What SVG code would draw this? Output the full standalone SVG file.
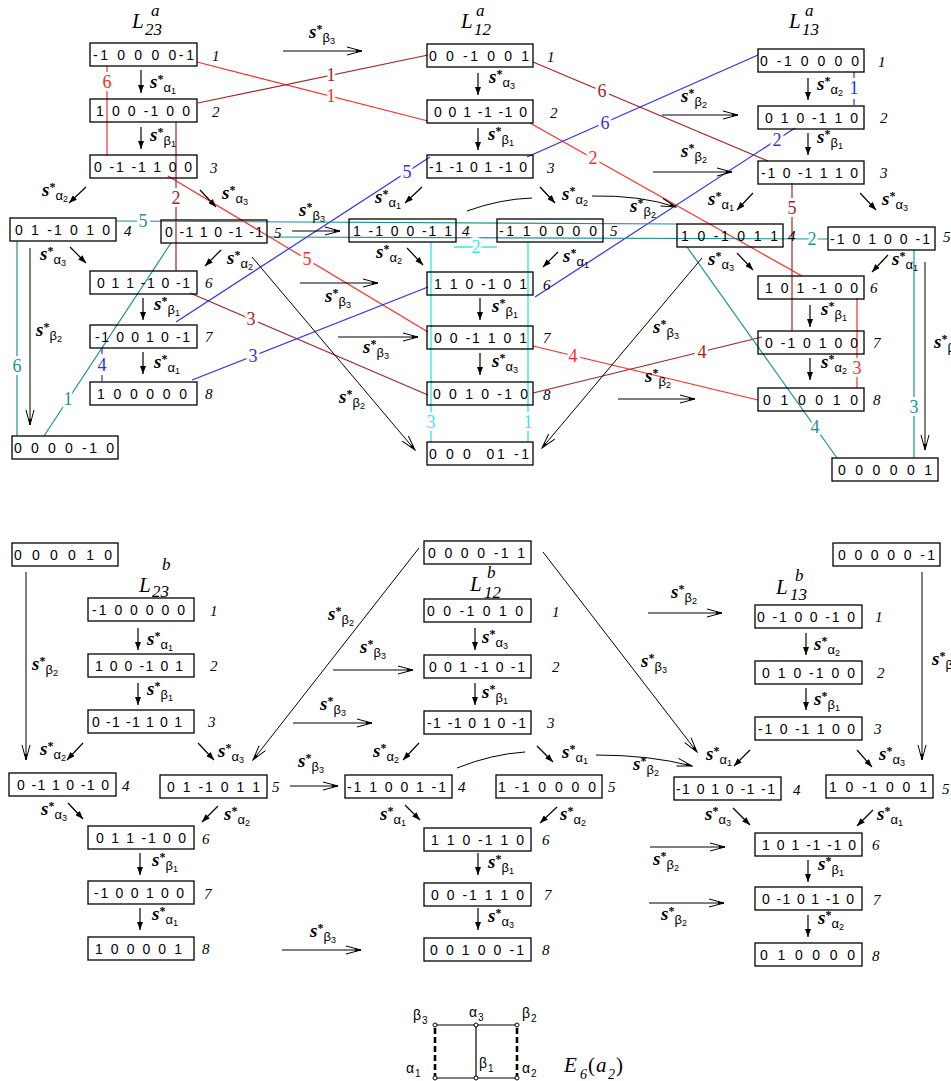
<svg xmlns="http://www.w3.org/2000/svg" width="951" height="1081" viewBox="0 0 951 1081">
<style>
.box{fill:none;stroke:#000;stroke-width:1.3}
.bx{font-family:"Liberation Sans",Arial,sans-serif;font-size:14px;fill:#000}
.ix{font-family:"Liberation Serif",serif;font-style:italic;font-size:15px;fill:#000}
.ttl{font-family:"Liberation Serif",serif;font-style:italic;font-size:21px;fill:#000}
.tsup{font-family:"Liberation Serif",serif;font-style:italic;font-size:17px;fill:#000}
.op{font-family:"Liberation Serif",serif;font-style:italic;font-weight:bold;font-size:19px;fill:#000}
.op .st{font-size:12px;font-style:normal}
.op .g{font-family:"Liberation Sans",Arial,sans-serif;font-style:normal;font-weight:normal;font-size:13px}
.op .n{font-family:"Liberation Sans",Arial,sans-serif;font-style:normal;font-weight:normal;font-size:9px}
.sa{stroke:#000;stroke-width:1.2;marker-end:url(#ah)}
.la{stroke:#000;stroke-width:1;fill:none;marker-end:url(#oh)}
.red{stroke:#ff2a2a;stroke-width:1.2}
.brn{stroke:#a02626;stroke-width:1.2}
.blu{stroke:#2f2fee;stroke-width:1.2}
.tea{stroke:#1f9090;stroke-width:1.2}
.cya{stroke:#3ee6e6;stroke-width:1.4}
.dash{stroke-dasharray:6 3}
.nl{font-family:"Liberation Serif",serif;font-size:18px;text-anchor:middle;paint-order:stroke;stroke:#fff;stroke-width:6px;stroke-linejoin:round}
.nr{fill:#ff2a2a}.nb{fill:#a02626}.nu{fill:#2f2fee}.nt{fill:#1f9090}.nc{fill:#3ee6e6}
.dk{font-family:"Liberation Sans",Arial,sans-serif;font-size:14px;fill:#000}
.dks{font-family:"Liberation Sans",Arial,sans-serif;font-size:10px;fill:#000}
</style>
<defs>
<marker id="ah" viewBox="0 0 8 6" refX="8" refY="3" markerWidth="8" markerHeight="6" markerUnits="userSpaceOnUse" orient="auto"><path d="M0,0 L8,3 L0,6 z" fill="#000"/></marker>
<marker id="oh" viewBox="-16 -5 17 10" refX="0" refY="0" markerWidth="17" markerHeight="10" markerUnits="userSpaceOnUse" orient="auto"><path d="M-15,-4 L0,0 L-15,4" fill="none" stroke="#000" stroke-width="1"/><path d="M-6,-1.6 L0,0 L-6,1.6 z" fill="#000"/></marker>
</defs>
<rect width="951" height="1081" fill="#fff"/>

<g id="connectors">
<line class="red" x1="197" y1="62" x2="428" y2="121"/>
<line class="red" x1="107" y1="66" x2="107" y2="155"/>
<line class="red" x1="168" y1="176" x2="428" y2="332"/>
<line class="red" x1="530" y1="123" x2="802" y2="276"/>
<line class="red" x1="533" y1="346" x2="758" y2="400"/>
<line class="red" x1="857" y1="298" x2="857" y2="388"/>
<line class="brn" x1="198" y1="103" x2="428" y2="55"/>
<line class="brn" x1="176" y1="122" x2="176" y2="271"/>
<line class="brn" x1="190" y1="293" x2="428" y2="395"/>
<line class="brn" x1="533" y1="62" x2="768" y2="161"/>
<line class="brn" x1="792" y1="183" x2="792" y2="331"/>
<line class="brn" x1="533" y1="393" x2="762" y2="337"/>
<line class="blu" x1="176" y1="322" x2="430" y2="157"/>
<line class="blu" x1="192" y1="380" x2="428" y2="287"/>
<line class="blu" x1="527" y1="157" x2="758" y2="55"/>
<line class="blu" x1="535" y1="297" x2="795" y2="128"/>
<line class="blu dash" x1="854" y1="72" x2="854" y2="106"/>
<line class="blu dash" x1="102" y1="348" x2="102" y2="382"/>
<line class="tea" x1="17" y1="241" x2="17" y2="436"/>
<line class="tea" x1="44" y1="436" x2="171" y2="243"/>
<line class="tea" x1="116" y1="221" x2="677" y2="224"/>
<line class="tea" x1="267" y1="237" x2="828" y2="239"/>
<line class="tea" x1="914" y1="250" x2="914" y2="458"/>
<line class="tea" x1="687" y1="247" x2="837" y2="458"/>
<line class="cya" x1="431" y1="242" x2="431" y2="442"/>
<line class="cya" x1="528" y1="242" x2="528" y2="442"/>
<line class="cya" x1="454" y1="247" x2="497" y2="247"/>

<text class="nl nr" x="331" y="102">1</text>
<text class="nl nr" x="107" y="88">6</text>
<text class="nl nr" x="307" y="265">5</text>
<text class="nl nr" x="593" y="164">2</text>
<text class="nl nr" x="573" y="362">4</text>
<text class="nl nr" x="857" y="374">3</text>
<text class="nl nb" x="331" y="81">1</text>
<text class="nl nb" x="176" y="204">2</text>
<text class="nl nb" x="251" y="325">3</text>
<text class="nl nb" x="602" y="97">6</text>
<text class="nl nb" x="792" y="214">5</text>
<text class="nl nb" x="702" y="358">4</text>
<text class="nl nu" x="407" y="178">5</text>
<text class="nl nu" x="253" y="362">3</text>
<text class="nl nu" x="605" y="129">6</text>
<text class="nl nu" x="777" y="146">2</text>
<text class="nl nu" x="854" y="94">1</text>
<text class="nl nu" x="102" y="371">4</text>
<text class="nl nt" x="17" y="372">6</text>
<text class="nl nt" x="68" y="405">1</text>
<text class="nl nt" x="143" y="227">5</text>
<text class="nl nt" x="812" y="245">2</text>
<text class="nl nt" x="914" y="413">3</text>
<text class="nl nt" x="815" y="433">4</text>
<text class="nl nc" x="431" y="428">3</text>
<text class="nl nc" x="528" y="428">1</text>
<text class="nl nc" x="476" y="253">2</text>

<line class="sa" x1="141" y1="70" x2="141" y2="93"/>
<line class="sa" x1="141" y1="127" x2="141" y2="149"/>
<line class="sa" x1="143" y1="298" x2="143" y2="320"/>
<line class="sa" x1="143" y1="352" x2="143" y2="374"/>
<line class="sa" x1="478" y1="73" x2="478" y2="95"/>
<line class="sa" x1="478" y1="128" x2="478" y2="150"/>
<line class="sa" x1="480" y1="298" x2="480" y2="320"/>
<line class="sa" x1="480" y1="353" x2="480" y2="375"/>
<line class="sa" x1="808" y1="78" x2="808" y2="100"/>
<line class="sa" x1="808" y1="133" x2="808" y2="155"/>
<line class="sa" x1="810" y1="305" x2="810" y2="327"/>
<line class="sa" x1="810" y1="358" x2="810" y2="380"/>
<line class="sa" x1="138" y1="628" x2="138" y2="650"/>
<line class="sa" x1="138" y1="683" x2="138" y2="705"/>
<line class="sa" x1="140" y1="853" x2="140" y2="875"/>
<line class="sa" x1="140" y1="908" x2="140" y2="930"/>
<line class="sa" x1="475" y1="628" x2="475" y2="650"/>
<line class="sa" x1="475" y1="683" x2="475" y2="705"/>
<line class="sa" x1="478" y1="853" x2="478" y2="875"/>
<line class="sa" x1="478" y1="908" x2="478" y2="930"/>
<line class="sa" x1="806" y1="633" x2="806" y2="655"/>
<line class="sa" x1="806" y1="688" x2="806" y2="710"/>
<line class="sa" x1="808" y1="860" x2="808" y2="882"/>
<line class="sa" x1="808" y1="915" x2="808" y2="937"/>

<line class="sa" x1="86" y1="187" x2="69" y2="203"/>
<line class="sa" x1="200" y1="190" x2="216" y2="207"/>
<line class="sa" x1="70" y1="247" x2="86" y2="263"/>
<line class="sa" x1="221" y1="250" x2="205" y2="266"/>
<line class="sa" x1="422" y1="187" x2="405" y2="203"/>
<line class="sa" x1="540" y1="187" x2="555" y2="203"/>
<line class="sa" x1="407" y1="248" x2="423" y2="265"/>
<line class="sa" x1="558" y1="252" x2="543" y2="267"/>
<line class="sa" x1="753" y1="193" x2="737" y2="210"/>
<line class="sa" x1="860" y1="193" x2="876" y2="210"/>
<line class="sa" x1="737" y1="253" x2="753" y2="270"/>
<line class="sa" x1="888" y1="255" x2="872" y2="272"/>
<line class="sa" x1="83" y1="743" x2="67" y2="760"/>
<line class="sa" x1="198" y1="743" x2="214" y2="760"/>
<line class="sa" x1="68" y1="803" x2="83" y2="819"/>
<line class="sa" x1="218" y1="806" x2="202" y2="822"/>
<line class="sa" x1="419" y1="743" x2="403" y2="760"/>
<line class="sa" x1="537" y1="746" x2="553" y2="762"/>
<line class="sa" x1="405" y1="805" x2="420" y2="820"/>
<line class="sa" x1="557" y1="807" x2="540" y2="823"/>
<line class="sa" x1="750" y1="750" x2="734" y2="766"/>
<line class="sa" x1="857" y1="750" x2="872" y2="767"/>
<line class="sa" x1="733" y1="808" x2="750" y2="825"/>
<line class="sa" x1="873" y1="810" x2="857" y2="826"/>

<line class="la" x1="283" y1="51" x2="362" y2="51"/>
<line class="la" x1="662" y1="115" x2="738" y2="115"/>
<line class="la" x1="653" y1="172" x2="732" y2="172"/>
<line class="la" x1="292" y1="231" x2="340" y2="231"/>
<line class="la" x1="300" y1="283" x2="378" y2="283"/>
<line class="la" x1="338" y1="337" x2="418" y2="337"/>
<line class="la" x1="618" y1="399" x2="695" y2="399"/>
<line class="la" x1="252" y1="257" x2="415" y2="450"/>
<line class="la" x1="702" y1="258" x2="542" y2="448"/>
<line class="la" x1="30" y1="248" x2="30" y2="425"/>
<line class="la" x1="925" y1="262" x2="925" y2="450"/>
<path class="la" d="M467,211 Q500,199 532,198" style="marker-end:none"/>
<path class="la" d="M592,196 Q640,195 676,207"/>

<line class="la" x1="648" y1="613" x2="722" y2="613"/>
<line class="la" x1="333" y1="670" x2="413" y2="670"/>
<line class="la" x1="293" y1="723" x2="372" y2="723"/>
<line class="la" x1="290" y1="786" x2="338" y2="786"/>
<line class="la" x1="650" y1="847" x2="725" y2="847"/>
<line class="la" x1="649" y1="903" x2="724" y2="903"/>
<line class="la" x1="282" y1="950" x2="361" y2="950"/>
<line class="la" x1="419" y1="548" x2="253" y2="760"/>
<line class="la" x1="543" y1="552" x2="697" y2="752"/>
<line class="la" x1="26" y1="572" x2="26" y2="760"/>
<line class="la" x1="922" y1="572" x2="922" y2="760"/>
<path class="la" d="M457,768 Q492,754 525,752" style="marker-end:none"/>
<path class="la" d="M596,755 Q650,755 692,766"/>

<text class="op" x="150" y="88">s<tspan class="st" dy="-5">*</tspan><tspan class="g" dy="9">α</tspan><tspan class="n" dy="2">1</tspan></text>
<text class="op" x="150" y="141">s<tspan class="st" dy="-5">*</tspan><tspan class="g" dy="9">β</tspan><tspan class="n" dy="2">1</tspan></text>
<text class="op" x="42" y="196">s<tspan class="st" dy="-5">*</tspan><tspan class="g" dy="9">α</tspan><tspan class="n" dy="2">2</tspan></text>
<text class="op" x="222" y="199">s<tspan class="st" dy="-5">*</tspan><tspan class="g" dy="9">α</tspan><tspan class="n" dy="2">3</tspan></text>
<text class="op" x="309" y="38">s<tspan class="st" dy="-5">*</tspan><tspan class="g" dy="9">β</tspan><tspan class="n" dy="2">3</tspan></text>
<text class="op" x="299" y="216">s<tspan class="st" dy="-5">*</tspan><tspan class="g" dy="9">β</tspan><tspan class="n" dy="2">3</tspan></text>
<text class="op" x="227" y="264">s<tspan class="st" dy="-5">*</tspan><tspan class="g" dy="9">α</tspan><tspan class="n" dy="2">2</tspan></text>
<text class="op" x="40" y="260">s<tspan class="st" dy="-5">*</tspan><tspan class="g" dy="9">α</tspan><tspan class="n" dy="2">3</tspan></text>
<text class="op" x="154" y="310">s<tspan class="st" dy="-5">*</tspan><tspan class="g" dy="9">β</tspan><tspan class="n" dy="2">1</tspan></text>
<text class="op" x="154" y="368">s<tspan class="st" dy="-5">*</tspan><tspan class="g" dy="9">α</tspan><tspan class="n" dy="2">1</tspan></text>
<text class="op" x="36" y="336">s<tspan class="st" dy="-5">*</tspan><tspan class="g" dy="9">β</tspan><tspan class="n" dy="2">2</tspan></text>
<text class="op" x="339" y="403">s<tspan class="st" dy="-5">*</tspan><tspan class="g" dy="9">β</tspan><tspan class="n" dy="2">2</tspan></text>
<text class="op" x="489" y="83">s<tspan class="st" dy="-5">*</tspan><tspan class="g" dy="9">α</tspan><tspan class="n" dy="2">3</tspan></text>
<text class="op" x="488" y="140">s<tspan class="st" dy="-5">*</tspan><tspan class="g" dy="9">β</tspan><tspan class="n" dy="2">1</tspan></text>
<text class="op" x="375" y="203">s<tspan class="st" dy="-5">*</tspan><tspan class="g" dy="9">α</tspan><tspan class="n" dy="2">1</tspan></text>
<text class="op" x="562" y="200">s<tspan class="st" dy="-5">*</tspan><tspan class="g" dy="9">α</tspan><tspan class="n" dy="2">2</tspan></text>
<text class="op" x="376" y="258">s<tspan class="st" dy="-5">*</tspan><tspan class="g" dy="9">α</tspan><tspan class="n" dy="2">2</tspan></text>
<text class="op" x="563" y="262">s<tspan class="st" dy="-5">*</tspan><tspan class="g" dy="9">α</tspan><tspan class="n" dy="2">1</tspan></text>
<text class="op" x="325" y="302">s<tspan class="st" dy="-5">*</tspan><tspan class="g" dy="9">β</tspan><tspan class="n" dy="2">3</tspan></text>
<text class="op" x="492" y="312">s<tspan class="st" dy="-5">*</tspan><tspan class="g" dy="9">β</tspan><tspan class="n" dy="2">1</tspan></text>
<text class="op" x="363" y="353">s<tspan class="st" dy="-5">*</tspan><tspan class="g" dy="9">β</tspan><tspan class="n" dy="2">3</tspan></text>
<text class="op" x="492" y="367">s<tspan class="st" dy="-5">*</tspan><tspan class="g" dy="9">α</tspan><tspan class="n" dy="2">3</tspan></text>
<text class="op" x="817" y="90">s<tspan class="st" dy="-5">*</tspan><tspan class="g" dy="9">α</tspan><tspan class="n" dy="2">2</tspan></text>
<text class="op" x="817" y="143">s<tspan class="st" dy="-5">*</tspan><tspan class="g" dy="9">β</tspan><tspan class="n" dy="2">1</tspan></text>
<text class="op" x="681" y="102">s<tspan class="st" dy="-5">*</tspan><tspan class="g" dy="9">β</tspan><tspan class="n" dy="2">2</tspan></text>
<text class="op" x="681" y="157">s<tspan class="st" dy="-5">*</tspan><tspan class="g" dy="9">β</tspan><tspan class="n" dy="2">2</tspan></text>
<text class="op" x="708" y="205">s<tspan class="st" dy="-5">*</tspan><tspan class="g" dy="9">α</tspan><tspan class="n" dy="2">1</tspan></text>
<text class="op" x="882" y="205">s<tspan class="st" dy="-5">*</tspan><tspan class="g" dy="9">α</tspan><tspan class="n" dy="2">3</tspan></text>
<text class="op" x="630" y="212">s<tspan class="st" dy="-5">*</tspan><tspan class="g" dy="9">β</tspan><tspan class="n" dy="2">2</tspan></text>
<text class="op" x="708" y="265">s<tspan class="st" dy="-5">*</tspan><tspan class="g" dy="9">α</tspan><tspan class="n" dy="2">3</tspan></text>
<text class="op" x="892" y="265">s<tspan class="st" dy="-5">*</tspan><tspan class="g" dy="9">α</tspan><tspan class="n" dy="2">1</tspan></text>
<text class="op" x="821" y="315">s<tspan class="st" dy="-5">*</tspan><tspan class="g" dy="9">β</tspan><tspan class="n" dy="2">1</tspan></text>
<text class="op" x="821" y="368">s<tspan class="st" dy="-5">*</tspan><tspan class="g" dy="9">α</tspan><tspan class="n" dy="2">2</tspan></text>
<text class="op" x="653" y="333">s<tspan class="st" dy="-5">*</tspan><tspan class="g" dy="9">β</tspan><tspan class="n" dy="2">3</tspan></text>
<text class="op" x="645" y="382">s<tspan class="st" dy="-5">*</tspan><tspan class="g" dy="9">β</tspan><tspan class="n" dy="2">2</tspan></text>
<text class="op" x="934" y="348">s<tspan class="st" dy="-5">*</tspan><tspan class="g" dy="9">β</tspan><tspan class="n" dy="2">3</tspan></text>

<text class="op" x="32" y="670">s<tspan class="st" dy="-5">*</tspan><tspan class="g" dy="9">β</tspan><tspan class="n" dy="2">2</tspan></text>
<text class="op" x="147" y="645">s<tspan class="st" dy="-5">*</tspan><tspan class="g" dy="9">α</tspan><tspan class="n" dy="2">1</tspan></text>
<text class="op" x="147" y="695">s<tspan class="st" dy="-5">*</tspan><tspan class="g" dy="9">β</tspan><tspan class="n" dy="2">1</tspan></text>
<text class="op" x="40" y="755">s<tspan class="st" dy="-5">*</tspan><tspan class="g" dy="9">α</tspan><tspan class="n" dy="2">2</tspan></text>
<text class="op" x="218" y="757">s<tspan class="st" dy="-5">*</tspan><tspan class="g" dy="9">α</tspan><tspan class="n" dy="2">3</tspan></text>
<text class="op" x="328" y="620">s<tspan class="st" dy="-5">*</tspan><tspan class="g" dy="9">β</tspan><tspan class="n" dy="2">2</tspan></text>
<text class="op" x="360" y="653">s<tspan class="st" dy="-5">*</tspan><tspan class="g" dy="9">β</tspan><tspan class="n" dy="2">3</tspan></text>
<text class="op" x="320" y="710">s<tspan class="st" dy="-5">*</tspan><tspan class="g" dy="9">β</tspan><tspan class="n" dy="2">3</tspan></text>
<text class="op" x="482" y="643">s<tspan class="st" dy="-5">*</tspan><tspan class="g" dy="9">α</tspan><tspan class="n" dy="2">3</tspan></text>
<text class="op" x="482" y="698">s<tspan class="st" dy="-5">*</tspan><tspan class="g" dy="9">β</tspan><tspan class="n" dy="2">1</tspan></text>
<text class="op" x="373" y="757">s<tspan class="st" dy="-5">*</tspan><tspan class="g" dy="9">α</tspan><tspan class="n" dy="2">2</tspan></text>
<text class="op" x="562" y="758">s<tspan class="st" dy="-5">*</tspan><tspan class="g" dy="9">α</tspan><tspan class="n" dy="2">1</tspan></text>
<text class="op" x="641" y="667">s<tspan class="st" dy="-5">*</tspan><tspan class="g" dy="9">β</tspan><tspan class="n" dy="2">3</tspan></text>
<text class="op" x="671" y="598">s<tspan class="st" dy="-5">*</tspan><tspan class="g" dy="9">β</tspan><tspan class="n" dy="2">2</tspan></text>
<text class="op" x="814" y="650">s<tspan class="st" dy="-5">*</tspan><tspan class="g" dy="9">α</tspan><tspan class="n" dy="2">2</tspan></text>
<text class="op" x="814" y="705">s<tspan class="st" dy="-5">*</tspan><tspan class="g" dy="9">β</tspan><tspan class="n" dy="2">1</tspan></text>
<text class="op" x="706" y="760">s<tspan class="st" dy="-5">*</tspan><tspan class="g" dy="9">α</tspan><tspan class="n" dy="2">1</tspan></text>
<text class="op" x="879" y="760">s<tspan class="st" dy="-5">*</tspan><tspan class="g" dy="9">α</tspan><tspan class="n" dy="2">3</tspan></text>
<text class="op" x="932" y="665">s<tspan class="st" dy="-5">*</tspan><tspan class="g" dy="9">β</tspan><tspan class="n" dy="2">3</tspan></text>
<text class="op" x="633" y="770">s<tspan class="st" dy="-5">*</tspan><tspan class="g" dy="9">β</tspan><tspan class="n" dy="2">2</tspan></text>
<text class="op" x="298" y="767">s<tspan class="st" dy="-5">*</tspan><tspan class="g" dy="9">β</tspan><tspan class="n" dy="2">3</tspan></text>
<text class="op" x="41" y="815">s<tspan class="st" dy="-5">*</tspan><tspan class="g" dy="9">α</tspan><tspan class="n" dy="2">3</tspan></text>
<text class="op" x="224" y="820">s<tspan class="st" dy="-5">*</tspan><tspan class="g" dy="9">α</tspan><tspan class="n" dy="2">2</tspan></text>
<text class="op" x="152" y="866">s<tspan class="st" dy="-5">*</tspan><tspan class="g" dy="9">β</tspan><tspan class="n" dy="2">1</tspan></text>
<text class="op" x="152" y="920">s<tspan class="st" dy="-5">*</tspan><tspan class="g" dy="9">α</tspan><tspan class="n" dy="2">1</tspan></text>
<text class="op" x="310" y="937">s<tspan class="st" dy="-5">*</tspan><tspan class="g" dy="9">β</tspan><tspan class="n" dy="2">3</tspan></text>
<text class="op" x="380" y="820">s<tspan class="st" dy="-5">*</tspan><tspan class="g" dy="9">α</tspan><tspan class="n" dy="2">1</tspan></text>
<text class="op" x="560" y="820">s<tspan class="st" dy="-5">*</tspan><tspan class="g" dy="9">α</tspan><tspan class="n" dy="2">2</tspan></text>
<text class="op" x="488" y="868">s<tspan class="st" dy="-5">*</tspan><tspan class="g" dy="9">β</tspan><tspan class="n" dy="2">1</tspan></text>
<text class="op" x="488" y="922">s<tspan class="st" dy="-5">*</tspan><tspan class="g" dy="9">α</tspan><tspan class="n" dy="2">3</tspan></text>
<text class="op" x="705" y="820">s<tspan class="st" dy="-5">*</tspan><tspan class="g" dy="9">α</tspan><tspan class="n" dy="2">3</tspan></text>
<text class="op" x="877" y="820">s<tspan class="st" dy="-5">*</tspan><tspan class="g" dy="9">α</tspan><tspan class="n" dy="2">1</tspan></text>
<text class="op" x="653" y="865">s<tspan class="st" dy="-5">*</tspan><tspan class="g" dy="9">β</tspan><tspan class="n" dy="2">2</tspan></text>
<text class="op" x="661" y="920">s<tspan class="st" dy="-5">*</tspan><tspan class="g" dy="9">β</tspan><tspan class="n" dy="2">2</tspan></text>
<text class="op" x="818" y="870">s<tspan class="st" dy="-5">*</tspan><tspan class="g" dy="9">β</tspan><tspan class="n" dy="2">1</tspan></text>
<text class="op" x="818" y="924">s<tspan class="st" dy="-5">*</tspan><tspan class="g" dy="9">α</tspan><tspan class="n" dy="2">2</tspan></text>
</g>

<g id="titles">
<text class="ttl" x="132" y="28">L</text><text class="tsup" x="151" y="16">a</text><text class="tsup" x="145" y="35">23</text>
<text class="ttl" x="461" y="28">L</text><text class="tsup" x="476" y="16">a</text><text class="tsup" x="474" y="35">12</text>
<text class="ttl" x="789" y="28">L</text><text class="tsup" x="805" y="16">a</text><text class="tsup" x="802" y="35">13</text>
<text class="ttl" x="139" y="592">L</text><text class="tsup" x="162" y="570">b</text><text class="tsup" x="152" y="597">23</text>
<text class="ttl" x="470" y="591">L</text><text class="tsup" x="487" y="578">b</text><text class="tsup" x="484" y="598">12</text>
<text class="ttl" x="776" y="594">L</text><text class="tsup" x="795" y="581">b</text><text class="tsup" x="790" y="600">13</text>
</g>

<g id="n-a23-1"><rect class="box" x="90" y="43" width="107" height="23"/><text class="bx" x="93" y="60" textLength="101">-1 0 0 0 0-1</text><text class="ix" x="212" y="61">1</text></g>
<g id="n-a23-2"><rect class="box" x="90" y="99" width="107" height="23"/><text class="bx" x="96" y="116" textLength="94">1 0 0 -1 0 0</text><text class="ix" x="212" y="117">2</text></g>
<g id="n-a23-3"><rect class="box" x="90" y="155" width="107" height="23"/><text class="bx" x="94" y="172" textLength="98">0 -1 -1 1 0 0</text><text class="ix" x="210" y="173">3</text></g>
<g id="n-a23-4"><rect class="box" x="10" y="218" width="106" height="23"/><text class="bx" x="15" y="235" textLength="95">0 1 -1 0 1 0</text><text class="ix" x="124" y="236">4</text></g>
<g id="n-a23-5"><rect class="box" x="161" y="220" width="106" height="23"/><text class="bx" x="165" y="237" textLength="98">0 -1 1 0 -1 -1</text><text class="ix" x="274" y="238">5</text></g>
<g id="n-a23-6"><rect class="box" x="90" y="271" width="107" height="23"/><text class="bx" x="97" y="288" textLength="93">0 1 1 -1 0 -1</text><text class="ix" x="205" y="288">6</text></g>
<g id="n-a23-7"><rect class="box" x="90" y="325" width="107" height="23"/><text class="bx" x="95" y="342" textLength="95">-1 0 0 1 0 -1</text><text class="ix" x="205" y="342">7</text></g>
<g id="n-a23-8"><rect class="box" x="90" y="382" width="107" height="23"/><text class="bx" x="97" y="399" textLength="90">1 0 0 0 0 0</text><text class="ix" x="205" y="399">8</text></g>
<g id="n-a-left"><rect class="box" x="12" y="436" width="106" height="23"/><text class="bx" x="14" y="453" textLength="100">0 0 0 0 -1 0</text></g>

<g id="n-a12-1"><rect class="box" x="427" y="44" width="106" height="23"/><text class="bx" x="429" y="61" textLength="100">0 0 -1 0 0 1</text><text class="ix" x="547" y="62">1</text></g>
<g id="n-a12-2"><rect class="box" x="427" y="100" width="106" height="23"/><text class="bx" x="434" y="117" textLength="93">0 0 1 -1 -1 0</text><text class="ix" x="550" y="118">2</text></g>
<g id="n-a12-3"><rect class="box" x="427" y="155" width="106" height="23"/><text class="bx" x="429" y="172" textLength="98">-1 -1 0 1 -1 0</text><text class="ix" x="547" y="173">3</text></g>
<g id="n-a12-4"><rect class="box" x="349" y="219" width="107" height="23"/><text class="bx" x="353" y="236" textLength="99">1 -1 0 0 -1 1</text><text class="ix" x="462" y="236">4</text></g>
<g id="n-a12-5"><rect class="box" x="497" y="219" width="106" height="23"/><text class="bx" x="499" y="236" textLength="98">-1 1 0 0 0 0</text><text class="ix" x="610" y="236">5</text></g>
<g id="n-a12-6"><rect class="box" x="427" y="272" width="106" height="23"/><text class="bx" x="434" y="289" textLength="93">1 1 0 -1 0 1</text><text class="ix" x="543" y="290">6</text></g>
<g id="n-a12-7"><rect class="box" x="427" y="326" width="106" height="23"/><text class="bx" x="434" y="343" textLength="93">0 0 -1 1 0 1</text><text class="ix" x="543" y="343">7</text></g>
<g id="n-a12-8"><rect class="box" x="427" y="382" width="106" height="23"/><text class="bx" x="433" y="399" textLength="95">0 0 1 0 -1 0</text><text class="ix" x="543" y="400">8</text></g>
<g id="n-a-bottom"><rect class="box" x="427" y="442" width="106" height="23"/><text class="bx" x="429" y="459" textLength="100" xml:space="preserve">0 0 0  01 -1</text></g>

<g id="n-a13-1"><rect class="box" x="758" y="49" width="106" height="23"/><text class="bx" x="760" y="66" textLength="99">0 -1 0 0 0 0</text><text class="ix" x="878" y="67">1</text></g>
<g id="n-a13-2"><rect class="box" x="758" y="106" width="106" height="23"/><text class="bx" x="765" y="123" textLength="93">0 1 0 -1 1 0</text><text class="ix" x="880" y="123">2</text></g>
<g id="n-a13-3"><rect class="box" x="758" y="161" width="106" height="23"/><text class="bx" x="761" y="178" textLength="97">-1 0 -1 1 1 0</text><text class="ix" x="880" y="178">3</text></g>
<g id="n-a13-4"><rect class="box" x="677" y="224" width="106" height="23"/><text class="bx" x="681" y="241" textLength="97">1 0 -1 0 1 1</text><text class="ix" x="788" y="241">4</text></g>
<g id="n-a13-5"><rect class="box" x="828" y="227" width="107" height="23"/><text class="bx" x="830" y="244" textLength="100">-1 0 1 0 0 -1</text><text class="ix" x="943" y="242">5</text></g>
<g id="n-a13-6"><rect class="box" x="758" y="276" width="106" height="23"/><text class="bx" x="765" y="293" textLength="93">1 0 1 -1 0 0</text><text class="ix" x="870" y="293">6</text></g>
<g id="n-a13-7"><rect class="box" x="758" y="331" width="106" height="23"/><text class="bx" x="765" y="348" textLength="93">0 -1 0 1 0 0</text><text class="ix" x="873" y="348">7</text></g>
<g id="n-a13-8"><rect class="box" x="758" y="388" width="106" height="23"/><text class="bx" x="763" y="405" textLength="95">0 1 0 0 1 0</text><text class="ix" x="873" y="405">8</text></g>
<g id="n-a-right"><rect class="box" x="832" y="458" width="106" height="23"/><text class="bx" x="838" y="475" textLength="94">0 0 0 0 0 1</text></g>

<g id="n-b-left"><rect class="box" x="12" y="543" width="106" height="23"/><text class="bx" x="14" y="560" textLength="98">0 0 0 0 1 0</text></g>
<g id="n-b-top"><rect class="box" x="424" y="541" width="107" height="23"/><text class="bx" x="428" y="558" textLength="97">0 0 0 0 -1 1</text></g>
<g id="n-b-right"><rect class="box" x="833" y="543" width="107" height="23"/><text class="bx" x="838" y="560" textLength="97">0 0 0 0 0 -1</text></g>

<g id="n-b23-1"><rect class="box" x="88" y="598" width="106" height="23"/><text class="bx" x="92" y="615" textLength="93">-1 0 0 0 0 0</text><text class="ix" x="210" y="616">1</text></g>
<g id="n-b23-2"><rect class="box" x="88" y="654" width="106" height="23"/><text class="bx" x="95" y="671" textLength="88">1 0 0 -1 0 1</text><text class="ix" x="210" y="671">2</text></g>
<g id="n-b23-3"><rect class="box" x="88" y="710" width="106" height="23"/><text class="bx" x="92" y="727" textLength="90">0 -1 -1 1 0 1</text><text class="ix" x="208" y="727">3</text></g>
<g id="n-b23-4"><rect class="box" x="9" y="773" width="107" height="23"/><text class="bx" x="17" y="790" textLength="92">0 -1 1 0 -1 0</text><text class="ix" x="122" y="791">4</text></g>
<g id="n-b23-5"><rect class="box" x="160" y="775" width="107" height="23"/><text class="bx" x="167" y="792" textLength="93">0 1 -1 0 1 1</text><text class="ix" x="272" y="792">5</text></g>
<g id="n-b23-6"><rect class="box" x="88" y="826" width="106" height="23"/><text class="bx" x="96" y="843" textLength="90">0 1 1 -1 0 0</text><text class="ix" x="202" y="844">6</text></g>
<g id="n-b23-7"><rect class="box" x="88" y="881" width="106" height="23"/><text class="bx" x="94" y="898" textLength="90">-1 0 0 1 0 0</text><text class="ix" x="204" y="899">7</text></g>
<g id="n-b23-8"><rect class="box" x="88" y="937" width="106" height="23"/><text class="bx" x="95" y="954" textLength="87">1 0 0 0 0 1</text><text class="ix" x="202" y="954">8</text></g>

<g id="n-b12-1"><rect class="box" x="424" y="599" width="107" height="23"/><text class="bx" x="427" y="616" textLength="96">0 0 -1 0 1 0</text><text class="ix" x="552" y="617">1</text></g>
<g id="n-b12-2"><rect class="box" x="424" y="655" width="107" height="23"/><text class="bx" x="429" y="672" textLength="96">0 0 1 -1 0 -1</text><text class="ix" x="552" y="672">2</text></g>
<g id="n-b12-3"><rect class="box" x="424" y="711" width="107" height="23"/><text class="bx" x="427" y="728" textLength="99">-1 -1 0 1 0 -1</text><text class="ix" x="547" y="728">3</text></g>
<g id="n-b12-4"><rect class="box" x="345" y="775" width="107" height="23"/><text class="bx" x="347" y="792" textLength="99">-1 1 0 0 1 -1</text><text class="ix" x="458" y="792">4</text></g>
<g id="n-b12-5"><rect class="box" x="496" y="775" width="106" height="23"/><text class="bx" x="498" y="792" textLength="98">1 -1 0 0 0 0</text><text class="ix" x="608" y="792">5</text></g>
<g id="n-b12-6"><rect class="box" x="424" y="828" width="107" height="23"/><text class="bx" x="431" y="845" textLength="93">1 1 0 -1 1 0</text><text class="ix" x="542" y="845">6</text></g>
<g id="n-b12-7"><rect class="box" x="424" y="883" width="107" height="23"/><text class="bx" x="431" y="900" textLength="93">0 0 -1 1 1 0</text><text class="ix" x="544" y="900">7</text></g>
<g id="n-b12-8"><rect class="box" x="424" y="938" width="107" height="23"/><text class="bx" x="430" y="955" textLength="94">0 0 1 0 0 -1</text><text class="ix" x="542" y="955">8</text></g>

<g id="n-b13-1"><rect class="box" x="755" y="605" width="107" height="23"/><text class="bx" x="757" y="622" textLength="98">0 -1 0 0 -1 0</text><text class="ix" x="875" y="622">1</text></g>
<g id="n-b13-2"><rect class="box" x="755" y="661" width="107" height="23"/><text class="bx" x="762" y="678" textLength="93">0 1 0 -1 0 0</text><text class="ix" x="877" y="678">2</text></g>
<g id="n-b13-3"><rect class="box" x="755" y="717" width="107" height="23"/><text class="bx" x="758" y="734" textLength="97">-1 0 -1 1 0 0</text><text class="ix" x="874" y="734">3</text></g>
<g id="n-b13-4"><rect class="box" x="674" y="777" width="107" height="23"/><text class="bx" x="676" y="794" textLength="99">-1 0 1 0 -1 -1</text><text class="ix" x="793" y="795">4</text></g>
<g id="n-b13-5"><rect class="box" x="826" y="775" width="107" height="23"/><text class="bx" x="829" y="792" textLength="98">1 0 -1 0 0 1</text><text class="ix" x="942" y="794">5</text></g>
<g id="n-b13-6"><rect class="box" x="755" y="833" width="107" height="23"/><text class="bx" x="762" y="850" textLength="94">1 0 1 -1 -1 0</text><text class="ix" x="872" y="850">6</text></g>
<g id="n-b13-7"><rect class="box" x="755" y="887" width="107" height="23"/><text class="bx" x="762" y="904" textLength="92">0 -1 0 1 -1 0</text><text class="ix" x="873" y="905">7</text></g>
<g id="n-b13-8"><rect class="box" x="755" y="943" width="107" height="23"/><text class="bx" x="760" y="960" textLength="95">0 1 0 0 0 0</text><text class="ix" x="872" y="961">8</text></g>

<g id="dynkin">
<g stroke="#000" stroke-width="1.2">
<line x1="435" y1="1025" x2="517" y2="1025"/>
<line x1="435" y1="1078" x2="517" y2="1078"/>
<line x1="476" y1="1025" x2="476" y2="1078"/>
</g>
<g stroke="#000" stroke-width="2.6" stroke-dasharray="6 3">
<line x1="435" y1="1028" x2="435" y2="1076"/>
<line x1="517" y1="1028" x2="517" y2="1076"/>
</g>
<g fill="#fff" stroke="#000" stroke-width="1">
<circle cx="435" cy="1025" r="2"/><circle cx="476" cy="1025" r="2"/><circle cx="517" cy="1025" r="2"/>
<circle cx="435" cy="1078" r="2"/><circle cx="476" cy="1078" r="2"/><circle cx="517" cy="1078" r="2"/>
</g>
<text class="dk" x="413" y="1020">β</text><text class="dks" x="422" y="1024">3</text>
<text class="dk" x="469" y="1017">α</text><text class="dks" x="478" y="1021">3</text>
<text class="dk" x="522" y="1018">β</text><text class="dks" x="531" y="1022">2</text>
<text class="dk" x="406" y="1073">α</text><text class="dks" x="415" y="1077">1</text>
<text class="dk" x="479" y="1068">β</text><text class="dks" x="488" y="1072">1</text>
<text class="dk" x="522" y="1073">α</text><text class="dks" x="531" y="1077">2</text>
<text class="ttl" x="564" y="1072">E</text><text class="tsup" x="580" y="1079" style="font-size:14px">6</text>
<text class="ttl" x="588" y="1072" style="font-style:normal">(</text><text class="ttl" x="596" y="1072">a</text><text class="tsup" x="608" y="1079" style="font-size:14px">2</text><text class="ttl" x="616" y="1072" style="font-style:normal">)</text>
</g>
</svg>
